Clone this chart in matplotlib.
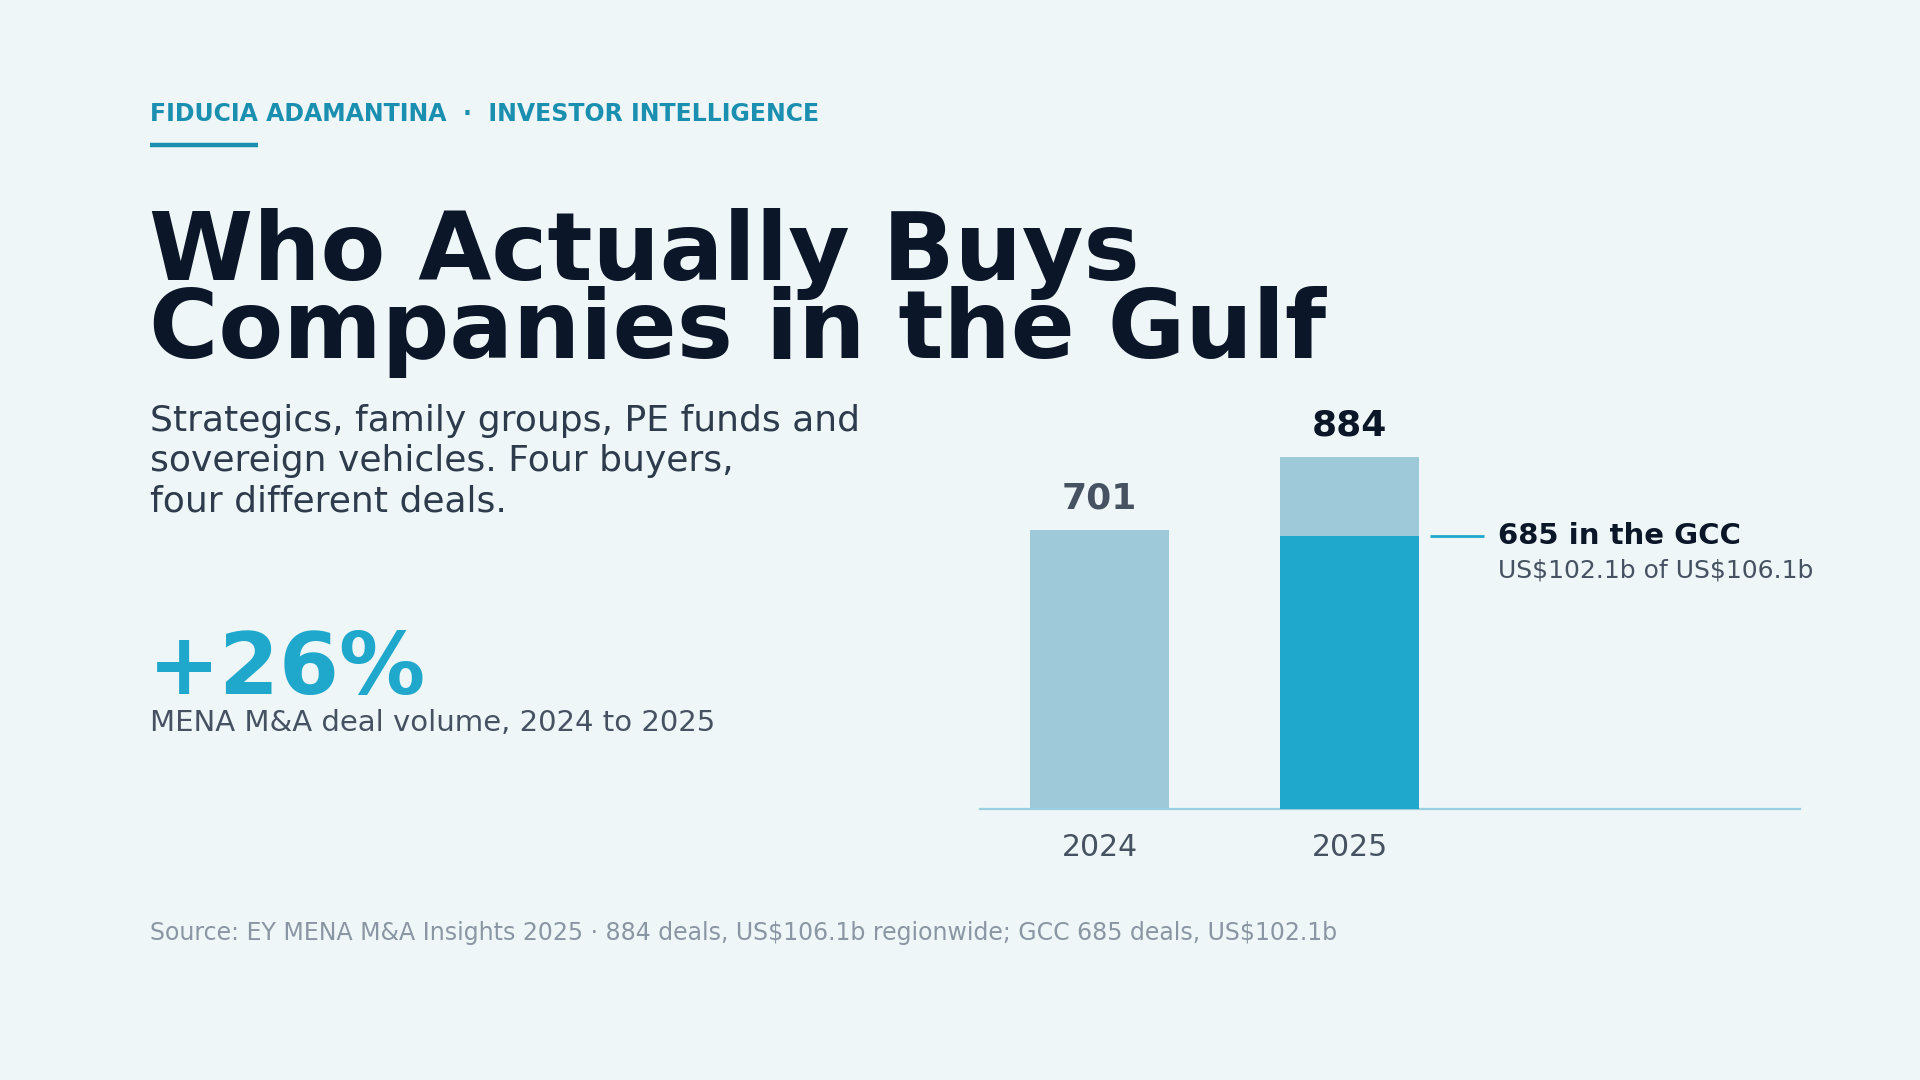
import matplotlib
matplotlib.use("Agg")
import matplotlib.pyplot as plt
from matplotlib.lines import Line2D

plt.rcParams["font.family"] = ["DejaVu Sans"]
plt.rcParams["text.parse_math"] = False

# ---- data ----
years = ["2024", "2025"]
total_deals = [701, 884]
gcc_deals = [None, 685]
gcc_label = "685 in the GCC"
gcc_value_label = "US$102.1b of US$106.1b"
growth_label = "+26%"
growth_caption = "MENA M&A deal volume, 2024 to 2025"
brand = "FIDUCIA ADAMANTINA  ·  INVESTOR INTELLIGENCE"
title_lines = ["Who Actually Buys", "Companies in the Gulf"]
subtitle_lines = ["Strategics, family groups, PE funds and",
                  "sovereign vehicles. Four buyers,",
                  "four different deals."]
source = ("Source: EY MENA M&A Insights 2025 · 884 deals, US$106.1b regionwide; "
          "GCC 685 deals, US$102.1b")

# ---- style ----
BG = "#eef6f7"
TEAL = "#1b8fb0"
BRIGHT = "#1fa8cc"
LIGHT = "#9dc9d8"
NAVY = "#0b1628"
SLATE = "#2e3b4c"
GREY = "#465262"
MUTED = "#8a96a3"
AXIS = "#9ccfdf"

W, H = 1920, 1080
fig = plt.figure(figsize=(19.2, 10.8), dpi=100, facecolor=BG)


def fx(px):
    return px / W


def fy(py):
    return 1 - py / H


# header
fig.text(fx(150), fy(114), brand, color=TEAL, fontsize=17, fontweight="bold",
         va="center", ha="left")
fig.add_artist(Line2D([fx(150), fx(258)], [fy(144.5), fy(144.5)], color=TEAL,
                      lw=3.2, solid_capstyle="butt"))

# title
fig.text(fx(149), fy(280), title_lines[0], color=NAVY, fontsize=68,
         fontweight="bold", va="baseline", ha="left")
fig.text(fx(149), fy(358), title_lines[1], color=NAVY, fontsize=68,
         fontweight="bold", va="baseline", ha="left")

# subtitle
sub_base = [431, 471, 511]
for line, b in zip(subtitle_lines, sub_base):
    fig.text(fx(150), fy(b), line, color=SLATE, fontsize=26, va="baseline",
             ha="left")

# big stat
fig.text(fx(148), fy(694), growth_label, color=BRIGHT, fontsize=62,
         fontweight="bold", va="baseline", ha="left")
fig.text(fx(150), fy(731), growth_caption, color=GREY, fontsize=21,
         va="baseline", ha="left")

# source
fig.text(fx(150), fy(940), source, color=MUTED, fontsize=17, va="baseline",
         ha="left")

# ---- chart ----
ax_left, ax_right = 980, 1800
ax_bottom, ax_top = 809, 371
ax = fig.add_axes([fx(ax_left), fy(ax_bottom), fx(ax_right - ax_left),
                   (ax_bottom - ax_top) / H])
ax.set_facecolor("none")
ax.set_xlim(-0.478, 2.802)
ax.set_ylim(0, 1100)
x = list(range(len(years)))
bw = 0.556

ax.bar(x, total_deals, width=bw, color=LIGHT, zorder=2)
gx = [i for i, v in enumerate(gcc_deals) if v is not None]
gv = [gcc_deals[i] for i in gx]
ax.bar(gx, gv, width=bw, color=BRIGHT, zorder=3)

label_colors = [GREY, NAVY]
for i, v in enumerate(total_deals):
    ax.annotate(str(v), (i, v), xytext=(0, 10.5), textcoords="offset points",
                ha="center", va="bottom", fontsize=26, fontweight="bold",
                color=label_colors[i], annotation_clip=False)

for i, v in zip(gx, gv):
    x0 = i + bw / 2 + 0.045
    x1 = x0 + 0.215
    ax.plot([x0, x1], [v, v], color=BRIGHT, lw=2, solid_capstyle="butt",
            clip_on=False)
    ax.annotate(gcc_label, (x1, v), xytext=(10, 0), textcoords="offset points",
                ha="left", va="center", fontsize=21, fontweight="bold",
                color=NAVY)
    ax.annotate(gcc_value_label, (x1, v), xytext=(10, -25),
                textcoords="offset points", ha="left", va="center",
                fontsize=18, color=GREY)

for s in ["top", "right", "left"]:
    ax.spines[s].set_visible(False)
ax.spines["bottom"].set_color(AXIS)
ax.spines["bottom"].set_linewidth(1.6)
ax.set_yticks([])
ax.set_xticks(x)
ax.set_xticklabels(years, fontsize=21.5, color=GREY)
ax.tick_params(axis="x", length=0, pad=17)

fig.savefig("out.png", dpi=100, facecolor=BG)
